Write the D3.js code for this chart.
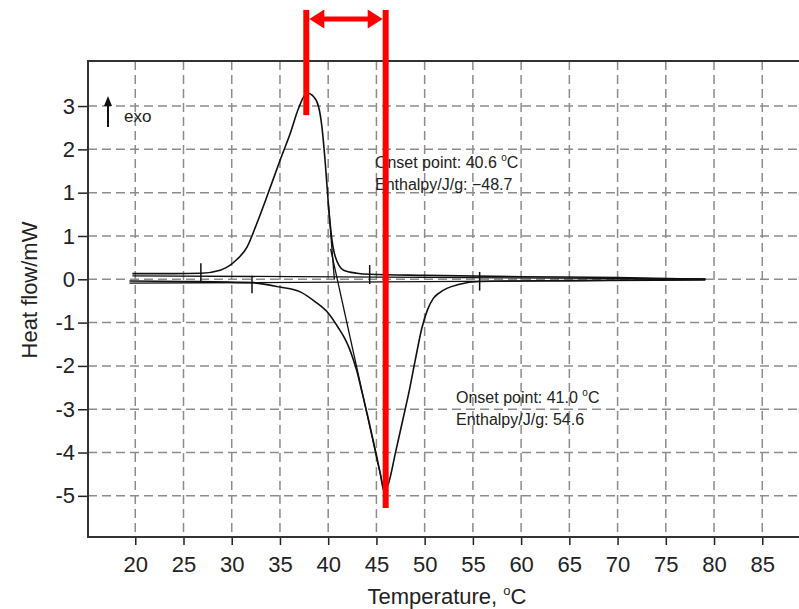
<!DOCTYPE html>
<html>
<head>
<meta charset="utf-8">
<script src="https://cdn.jsdelivr.net/npm/d3@7"></script>
<style>
body { margin: 0; background: #fff; }
svg text { font-family: Arial, "Liberation Sans", sans-serif; }
</style>
</head>
<body>
<svg id="chartSvg" width="799" height="609"></svg>
<script>
// ---- data ----
var xTicks = [20, 25, 30, 35, 40, 45, 50, 55, 60, 65, 70, 75, 80, 85]
var yTicks = [4, 3, 2, 1, 0, -1, -2, -3, -4, -5]
var yTickLabels = ['3', '2', '1', '1', '0', '-1', '-2', '-3', '-4', '-5']

// cooling run (exo peak)
var exoTemp = [19.7, 24, 26.8, 28.8, 30.5, 31.6, 32.6, 33.65, 35.03, 36.07, 36.93, 37.8, 38.48, 39.0, 39.35, 39.7, 40.04, 40.39, 40.74, 41.6, 42.98, 44.3, 50, 60, 70, 79.1]
var exoFlow = [0.13, 0.13, 0.14, 0.21, 0.45, 0.75, 1.29, 1.91, 2.76, 3.37, 3.95, 4.30, 4.22, 3.99, 3.52, 2.68, 1.68, 0.91, 0.52, 0.21, 0.14, 0.115, 0.09, 0.06, 0.04, 0.0]

// heating run (endo peak)
var endoTemp = [19.4, 25, 32.1, 35.0, 37.1, 38.66, 40.04, 41.08, 41.7, 42.2, 42.6, 42.95, 43.5, 44.19, 44.88, 45.4, 45.8, 46.26, 46.96, 47.65, 48.35, 49.03, 49.72, 50.3, 50.9, 51.6, 52.3, 53.5, 55.7, 65, 79.1]
var endoFlow = [-0.04, -0.05, -0.08, -0.18, -0.29, -0.52, -0.79, -1.13, -1.36, -1.6, -1.85, -2.1, -2.6, -3.25, -3.94, -4.48, -4.9, -4.71, -4.02, -3.33, -2.63, -1.86, -1.12, -0.7, -0.44, -0.3, -0.21, -0.12, -0.05, -0.03, 0.0]

// integration baselines
var exoBaseTemp = [19.7, 79.1]
var exoBaseFlow = [0.08, 0.01]
var endoBaseTemp = [19.4, 79.1]
var endoBaseFlow = [-0.09, -0.02]

// onset tangents
var endoTangentTemp = [40.25, 45.8]
var endoTangentFlow = [0.7, -4.9]
var exoTangentTemp = [40.64, 40.0]
var exoTangentFlow = [0.0, 1.8]

// limit marks on the curves
var markTemp = [26.8, 44.3, 32.1, 55.7]
var markLow = [-0.07, -0.11, -0.32, -0.26]
var markHigh = [0.37, 0.33, 0.08, 0.17]

// red peak markers
var peakTemp = [37.73, 45.96]
var peakBottom = [3.79, -5.28]
var peakTop = 6.22

var notes = [
    { t: 44.85, v: 2.57, line1: 'Onset point: 40.6 ', line2: 'Enthalpy/J/g: \u221248.7' },
    { t: 53.25, v: -2.86, line1: 'Onset point: 41.0 ', line2: 'Enthalpy/J/g: 54.6' }
]

// ---- scales ----
var svg = d3.select('#chartSvg')
var PlotLeft = 88, PlotTop = 61, PlotBottom = 537, PlotRight = 799
var x = d3.scaleLinear().domain([15.1, 90]).range([PlotLeft, 810.5])
var y = d3.scaleLinear().domain([-5.95, 5.04]).range([PlotBottom, PlotTop])

function zipPts (a, b) { return a.map(function (d, i) { return [d, b[i]] }) }

// grid
svg.append('g').selectAll('line').data(xTicks).enter().append('line')
    .attr('x1', d => x(d)).attr('x2', d => x(d))
    .attr('y1', PlotTop).attr('y2', PlotBottom)
    .attr('stroke', '#8c8c8c').attr('stroke-width', 1.5).attr('stroke-dasharray', '9,5')
svg.append('g').selectAll('line').data(yTicks).enter().append('line')
    .attr('x1', PlotLeft).attr('x2', PlotRight)
    .attr('y1', d => y(d)).attr('y2', d => y(d))
    .attr('stroke', '#8c8c8c').attr('stroke-width', 1.5).attr('stroke-dasharray', '9,5')

// axes
var yAxis = d3.axisLeft(y).tickValues(yTicks)
    .tickFormat(function (d, i) { return yTickLabels[i] })
    .tickSize(10).tickPadding(3)
var gY = svg.append('g').attr('transform', `translate(${PlotLeft},0)`).call(yAxis)
var xAxis = d3.axisBottom(x).tickValues(xTicks).tickSize(8).tickPadding(11)
var gX = svg.append('g').attr('transform', `translate(0,${PlotBottom})`).call(xAxis)
;[gX, gY].forEach(function (g) {
    g.select('.domain').remove()
    g.selectAll('.tick line').attr('stroke', '#222').attr('stroke-width', 1.5)
    g.selectAll('.tick text').attr('font-size', '22px').attr('fill', '#222')
        .attr('font-family', 'Arial, "Liberation Sans", sans-serif')
})

// frame
svg.append('path')
    .attr('d', `M${PlotRight},${PlotTop}H${PlotLeft}V${PlotBottom}H${PlotRight}`)
    .attr('fill', 'none').attr('stroke', '#333').attr('stroke-width', 2)

// curves
var line = d3.line().x(d => x(d[0])).y(d => y(d[1]))
var smooth = d3.line().x(d => x(d[0])).y(d => y(d[1])).curve(d3.curveMonotoneX)
var straightSets = [
    zipPts(exoBaseTemp, exoBaseFlow), zipPts(endoBaseTemp, endoBaseFlow),
    zipPts(endoTangentTemp, endoTangentFlow), zipPts(exoTangentTemp, exoTangentFlow)
]
straightSets.forEach(function (pts) {
    svg.append('path').attr('d', line(pts))
        .attr('fill', 'none').attr('stroke', '#111').attr('stroke-width', 1.3)
})
;[zipPts(exoTemp, exoFlow), zipPts(endoTemp, endoFlow)].forEach(function (pts) {
    svg.append('path').attr('d', smooth(pts))
        .attr('fill', 'none').attr('stroke', '#111').attr('stroke-width', 1.6)
})
for (let i = 0; i < markTemp.length; i++) {
    svg.append('line')
        .attr('x1', x(markTemp[i])).attr('x2', x(markTemp[i]))
        .attr('y1', y(markLow[i])).attr('y2', y(markHigh[i]))
        .attr('stroke', '#111').attr('stroke-width', 1.5)
}

// annotations
notes.forEach(function (n) {
    var t = svg.append('text').attr('x', x(n.t)).attr('y', y(n.v)).attr('font-size', '16px').attr('fill', '#222')
    t.append('tspan').text(n.line1)
    t.append('tspan').attr('font-size', '10px').attr('dy', -7).text('o')
    t.append('tspan').attr('dy', 7).text('C')
    svg.append('text').attr('x', x(n.t)).attr('y', y(n.v) + 22).attr('font-size', '16px').attr('fill', '#222')
        .text(n.line2)
})

// exo arrow
svg.append('line').attr('x1', 108).attr('x2', 108).attr('y1', 127).attr('y2', 103)
    .attr('stroke', '#111').attr('stroke-width', 2)
svg.append('path').attr('d', 'M108,96L104,106L112,106Z').attr('fill', '#111')
svg.append('text').attr('x', 124).attr('y', 122).attr('font-size', '17px').attr('fill', '#222').text('exo')

// axis titles
svg.append('text').attr('x', 447).attr('y', 604).attr('text-anchor', 'middle')
    .attr('font-size', '22px').attr('fill', '#222')
    .call(function (t) {
        t.append('tspan').text('Temperature, ')
        t.append('tspan').attr('font-size', '13px').attr('dy', -9).text('o')
        t.append('tspan').attr('dy', 9).text('C')
    })
svg.append('text').attr('transform', 'translate(37,290) rotate(-90)').attr('text-anchor', 'middle')
    .attr('font-size', '22px').attr('fill', '#222').text('Heat flow/mW')

// red peak markers with double arrow
var red = '#ff0000'
for (let i = 0; i < peakTemp.length; i++) {
    svg.append('line')
        .attr('x1', x(peakTemp[i])).attr('x2', x(peakTemp[i]))
        .attr('y1', y(peakTop)).attr('y2', y(peakBottom[i]))
        .attr('stroke', red).attr('stroke-width', 6)
}
var ax0 = x(peakTemp[0]) + 3, ax1 = x(peakTemp[1]) - 3, ay = 19
svg.append('line').attr('x1', ax0 + 10).attr('x2', ax1 - 10).attr('y1', ay).attr('y2', ay)
    .attr('stroke', red).attr('stroke-width', 5)
svg.append('path').attr('d', `M${ax0},${ay}L${ax0 + 15},${ay - 9.5}L${ax0 + 15},${ay + 9.5}Z`).attr('fill', red)
svg.append('path').attr('d', `M${ax1},${ay}L${ax1 - 15},${ay - 9.5}L${ax1 - 15},${ay + 9.5}Z`).attr('fill', red)
</script>
</body>
</html>
